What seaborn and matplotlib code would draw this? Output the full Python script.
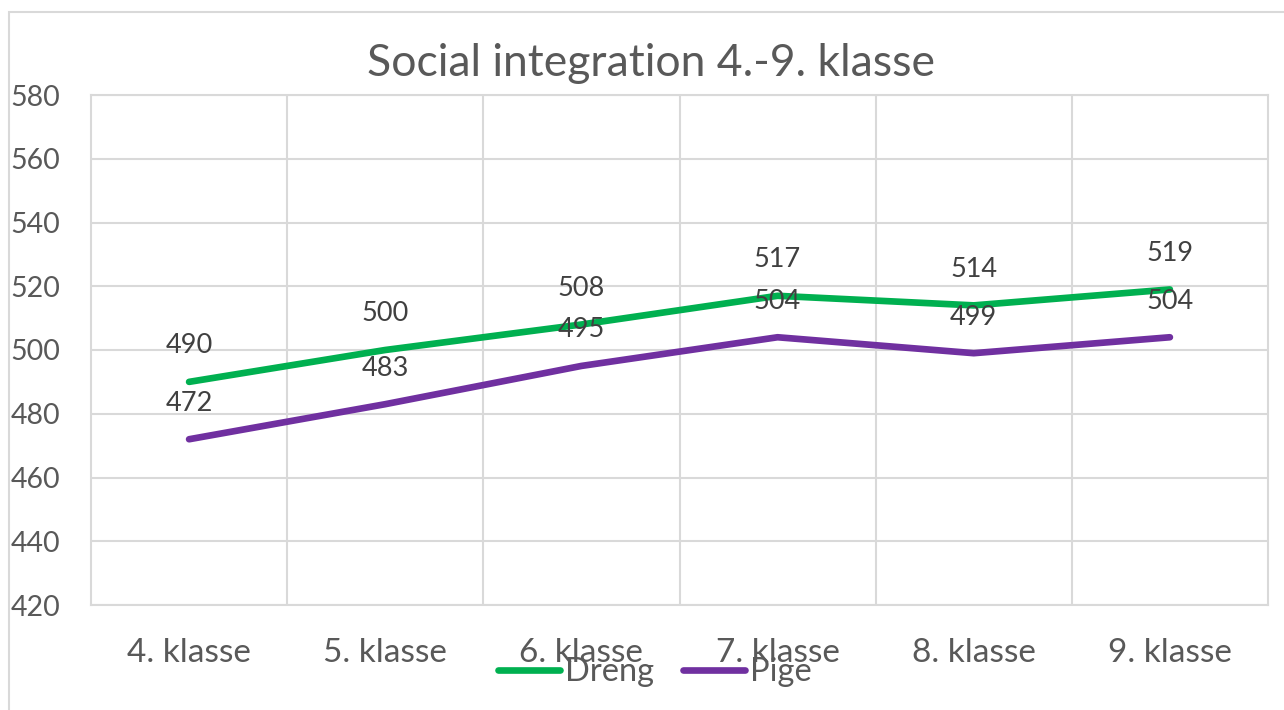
import numpy as np
import pandas as pd
import matplotlib.pyplot as plt
from matplotlib.patches import Rectangle
import seaborn as sns

# chart values
klasser = ["4. klasse", "5. klasse", "6. klasse", "7. klasse", "8. klasse", "9. klasse"]
dreng = [490, 500, 508, 517, 514, 519]
pige = [472, 483, 495, 504, 499, 504]
series_names = ["Dreng", "Pige"]
y_ticks = [420, 440, 460, 480, 500, 520, 540, 560, 580]

TXT = "#595959"
GRID = "#D9D9D9"
palette = {"Dreng": "#00B050", "Pige": "#7030A0"}

sns.set_style("white")
plt.rcParams["font.family"] = ["Lato", "DejaVu Sans"]

df = pd.DataFrame({
    "klasse": klasser * 2,
    "score": dreng + pige,
    "køn": [series_names[0]] * len(klasser) + [series_names[1]] * len(klasser),
})
df["pos"] = df["klasse"].map({k: i for i, k in enumerate(klasser)})

fig = plt.figure(figsize=(12.84, 7.10), dpi=100)
ax = fig.add_axes([91 / 1284, 105 / 710, (1268 - 91) / 1284, (605 - 95) / 710])

# outer chart border
fig.patches.append(Rectangle((9 / 1284, -0.1), 1.2, (710 - 12) / 710 + 0.1,
                             transform=fig.transFigure, fill=False,
                             edgecolor=GRID, lw=1.5, zorder=0))

sns.lineplot(data=df, x="pos", y="score", hue="køn", palette=palette,
             linewidth=4.8, ax=ax, legend=False, solid_capstyle="round")

for _, r in df.iterrows():
    ax.annotate(f"{r['score']:.0f}", (r["pos"], r["score"]), xytext=(0, 26),
                textcoords="offset points", ha="center", va="center",
                fontsize=19.5, color="#404040")

ax.set_xlim(-0.5, len(klasser) - 0.5)
ax.set_ylim(y_ticks[0], y_ticks[-1])
ax.set_yticks(y_ticks)
ax.set_xticks(range(len(klasser)))
ax.set_xticklabels(klasser)
ax.set_xticks(np.arange(0.5, len(klasser) - 0.5), minor=True)
ax.grid(True, which="major", axis="y", color=GRID, lw=1.5)
ax.grid(True, which="minor", axis="x", color=GRID, lw=1.5)
ax.grid(False, which="major", axis="x")
ax.set_axisbelow(True)
ax.tick_params(axis="both", which="both", length=0, labelcolor=TXT)
ax.tick_params(axis="y", pad=22, labelsize=20.5)
ax.tick_params(axis="x", pad=24, labelsize=24)
for s in ax.spines.values():
    s.set_color(GRID)
    s.set_linewidth(1.5)
ax.set_xlabel("")
ax.set_ylabel("")

fig.text(651 / 1284, 1 - 64 / 710, "Social integration 4.-9. klasse",
         ha="center", va="center", fontsize=32, color=TXT)

handles = [plt.Line2D([], [], color=palette[n], lw=4.8, solid_capstyle="round")
           for n in series_names]
fig.legend(handles, series_names, loc="center", bbox_to_anchor=(655 / 1284, 1 - 672 / 710),
           ncol=2, frameon=False, fontsize=23.5, labelcolor=TXT,
           handlelength=1.9, handletextpad=0.15, columnspacing=0.9)

fig.savefig("out.png", dpi=100)
